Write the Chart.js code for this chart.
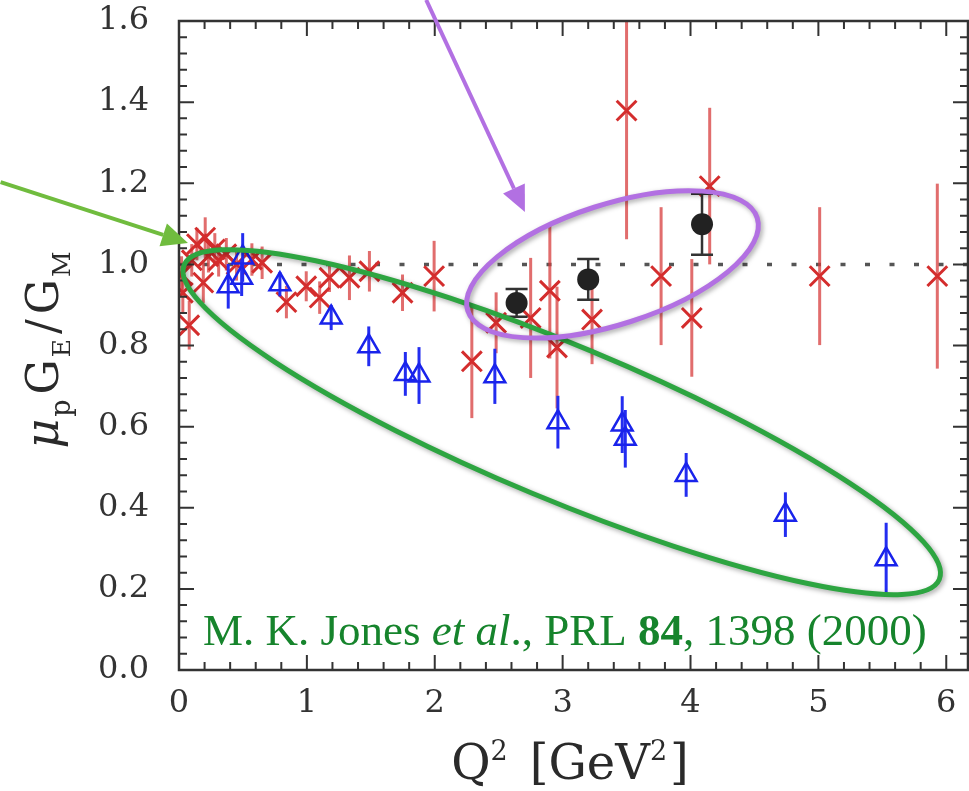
<!DOCTYPE html>
<html><head><meta charset="utf-8">
<script src="https://cdn.jsdelivr.net/npm/chart.js@4/dist/chart.umd.min.js"></script>
<style>html,body{margin:0;padding:0;background:#fff;overflow:hidden}#wrap{width:969px;height:791px}</style>
</head><body><div id="wrap"><canvas id="c" width="969" height="791"></canvas></div>
<script>
// ---------- data ----------
const xTickLabels = [0, 1, 2, 3, 4, 5, 6];
const yTickLabels = [0.0, 0.2, 0.4, 0.6, 0.8, 1.0, 1.2, 1.4, 1.6];
const xRange = [0, 6.17];
const yRange = [0, 1.6];
const refLevel = 1.0;

// Rosenbluth separation (red asterisks)
const redQ   = [0.02, 0.03, 0.08, 0.10, 0.14, 0.19, 0.205, 0.23, 0.28, 0.31, 0.37, 0.45, 0.57, 0.65, 0.84, 0.995, 1.10, 1.177, 1.333, 1.489, 1.748, 1.995, 2.29, 2.48, 2.75, 2.90, 2.956, 3.23, 3.50, 3.77, 4.01, 4.15, 5.01, 5.93];
const redR   = [0.975, 0.93, 0.85, 1.01, 1.05, 0.955, 1.066, 1.02, 1.037, 1.01, 1.025, 1.00, 1.012, 1.004, 0.907, 0.946, 0.918, 0.967, 0.967, 0.983, 0.93, 0.971, 0.761, 0.856, 0.868, 0.935, 0.795, 0.864, 1.379, 0.971, 0.868, 1.193, 0.971, 0.971];
const redErr = [0.045, 0.05, 0.06, 0.04, 0.04, 0.05, 0.05, 0.04, 0.04, 0.04, 0.04, 0.04, 0.04, 0.04, 0.04, 0.037, 0.04, 0.035, 0.055, 0.05, 0.045, 0.087, 0.14, 0.075, 0.148, 0.167, 0.15, 0.11, 0.317, 0.17, 0.145, 0.193, 0.17, 0.228];

// Polarization transfer, Jones et al. (blue triangles)
const blueQ   = [0.385, 0.498, 0.49, 0.789, 1.19, 1.484, 1.77, 1.877, 2.47, 2.963, 3.466, 3.49, 3.966, 4.742, 5.53];
const blueR   = [0.946, 1.017, 0.967, 0.951, 0.869, 0.798, 0.73, 0.726, 0.724, 0.611, 0.605, 0.57, 0.481, 0.383, 0.273];
const blueErr = [0.055, 0.06, 0.045, 0.03, 0.031, 0.049, 0.054, 0.07, 0.068, 0.065, 0.07, 0.071, 0.054, 0.055, 0.09];

// Black filled circles
const blackQ   = [2.64, 3.20, 4.09];
const blackR   = [0.905, 0.963, 1.099];
const blackErr = [0.034, 0.05, 0.075];

const toPts = (q, r) => q.map((v, i) => ({x: v, y: r[i]}));

// ---------- annotation anchors (data units) ----------
const greenEllipse  = {q: 2.993, r: 0.611};
const purpleEllipse = {q: 3.39,  r: 1.0};
const greenArrow  = {from: {q: -1.395, r: 1.203}, to: {q: 0.07, r: 1.053}};
const purpleArrow = {from: {q: 1.933, r: 1.652}, to: {q: 2.705, r: 1.129}};
const citeAnchor = {q: 0.187, r: 0.062};

const SERIF = "'DejaVu Serif', serif";
const TIMES = "'Liberation Serif', 'Times New Roman', serif";

const errorBars = {
  id: 'errorBars',
  beforeDatasetDraw(chart, args) {
    const ds = chart.data.datasets[args.index];
    if (!ds.errors) return;
    const {ctx, chartArea: a} = chart;
    const xs = chart.scales.x, ys = chart.scales.y;
    ctx.save();
    ctx.beginPath(); ctx.rect(a.left, a.top, a.right - a.left, a.bottom - a.top); ctx.clip();
    ctx.strokeStyle = ds.errColor; ctx.lineWidth = ds.errWidth; ctx.lineCap = 'butt';
    ds.data.forEach((p, i) => {
      const px = xs.getPixelForValue(p.x);
      const y1 = ys.getPixelForValue(p.y - ds.errors[i]);
      const y2 = ys.getPixelForValue(p.y + ds.errors[i]);
      ctx.beginPath(); ctx.moveTo(px, y1); ctx.lineTo(px, y2); ctx.stroke();
      if (ds.cap) {
        ctx.beginPath();
        ctx.moveTo(px - ds.cap, y1); ctx.lineTo(px + ds.cap, y1);
        ctx.moveTo(px - ds.cap, y2); ctx.lineTo(px + ds.cap, y2);
        ctx.stroke();
      }
    });
    ctx.restore();
  }
};

const frameTicks = {
  id: 'frameTicks',
  afterDatasetsDraw(chart) {
    const {ctx, chartArea: a} = chart;
    const xs = chart.scales.x, ys = chart.scales.y;
    ctx.save();
    ctx.strokeStyle = '#333'; ctx.lineWidth = 2;
    const major = 15, minor = 8;
    for (let k = 0; k <= 31; k++) {
      const v = k * 0.2;
      if (v > xs.max + 1e-9) break;
      const px = xs.getPixelForValue(v);
      const len = (k % 5 === 0) ? major : minor;
      ctx.beginPath();
      ctx.moveTo(px, a.bottom); ctx.lineTo(px, a.bottom - len);
      ctx.moveTo(px, a.top); ctx.lineTo(px, a.top + len);
      ctx.stroke();
    }
    for (let k = 0; k <= 40; k++) {
      const v = k * 0.04;
      const py = ys.getPixelForValue(v);
      const len = (k % 5 === 0) ? major : minor;
      ctx.beginPath();
      ctx.moveTo(a.left, py); ctx.lineTo(a.left + len, py);
      ctx.moveTo(a.right, py); ctx.lineTo(a.right - len, py);
      ctx.stroke();
    }
    ctx.lineWidth = 2.5;
    ctx.strokeRect(a.left, a.top, a.right - a.left, a.bottom - a.top);
    ctx.restore();
  }
};

function drawPieces(ctx, pieces, x, y) {
  let cx = x;
  pieces.forEach(p => {
    ctx.font = p.f;
    ctx.fillText(p.t, cx + (p.dx || 0), y + (p.dy || 0));
    cx += ctx.measureText(p.t).width + (p.gap || 0);
  });
  return cx;
}
function piecesWidth(ctx, pieces) {
  let w = 0;
  pieces.forEach(p => { ctx.font = p.f; w += ctx.measureText(p.t).width + (p.gap || 0); });
  return w;
}

function arrow(ctx, x1, y1, x2, y2, color, lw, hl, hw) {
  const ang = Math.atan2(y2 - y1, x2 - x1);
  const bx = x2 - hl * Math.cos(ang), by = y2 - hl * Math.sin(ang);
  ctx.strokeStyle = color; ctx.fillStyle = color; ctx.lineWidth = lw;
  ctx.beginPath(); ctx.moveTo(x1, y1); ctx.lineTo(bx, by); ctx.stroke();
  ctx.beginPath();
  ctx.moveTo(x2, y2);
  ctx.lineTo(bx + hw * Math.sin(ang), by - hw * Math.cos(ang));
  ctx.lineTo(bx - hw * Math.sin(ang), by + hw * Math.cos(ang));
  ctx.closePath(); ctx.fill();
}

const annotations = {
  id: 'annotations',
  afterDraw(chart) {
    const {ctx} = chart;
    const xs = chart.scales.x, ys = chart.scales.y;
    const P = o => [xs.getPixelForValue(o.q), ys.getPixelForValue(o.r)];
    ctx.save();
    // axis titles
    ctx.fillStyle = '#2a2a2a';
    ctx.textBaseline = 'alphabetic';
    const xt = [
      {t: 'Q', f: `48px ${SERIF}`},
      {t: '2', f: `27px ${SERIF}`, dy: -19, gap: 22},
      {t: '[GeV', f: `48px ${SERIF}`},
      {t: '2', f: `27px ${SERIF}`, dy: -19, gap: 3},
      {t: ']', f: `48px ${SERIF}`}
    ];
    const xw = piecesWidth(ctx, xt);
    drawPieces(ctx, xt, 570 - xw / 2, 779);

    ctx.save();
    ctx.translate(58, 350);
    ctx.rotate(-Math.PI / 2);
    const yt = [
      {t: 'μ', f: `italic 46px ${SERIF}`, gap: 2},
      {t: 'p', f: `27px ${SERIF}`, dy: 12, gap: 5},
      {t: 'G', f: `44px ${SERIF}`, gap: 2},
      {t: 'E', f: `25px ${SERIF}`, dy: 12, gap: 5},
      {t: '/', f: `44px ${SERIF}`, gap: 5},
      {t: 'G', f: `44px ${SERIF}`, gap: 2},
      {t: 'M', f: `25px ${SERIF}`, dy: 12}
    ];
    const yw = piecesWidth(ctx, yt);
    drawPieces(ctx, yt, -yw / 2, 0);
    ctx.restore();

    // ellipses
    ctx.shadowColor = 'rgba(0,0,0,0.35)'; ctx.shadowBlur = 5; ctx.shadowOffsetX = 2; ctx.shadowOffsetY = 2;
    let [gx, gy] = P(greenEllipse);
    ctx.strokeStyle = 'rgb(45,165,65)'; ctx.lineWidth = 5;
    ctx.beginPath(); ctx.ellipse(gx, gy, 409, 77, 22.6 * Math.PI / 180, 0, Math.PI * 2); ctx.stroke();
    let [ux, uy] = P(purpleEllipse);
    ctx.strokeStyle = 'rgb(178,112,226)';
    ctx.beginPath(); ctx.ellipse(ux, uy, 152, 60, -17.8 * Math.PI / 180, 0, Math.PI * 2); ctx.stroke();
    ctx.shadowColor = 'transparent'; ctx.shadowBlur = 0; ctx.shadowOffsetX = 0; ctx.shadowOffsetY = 0;

    // arrows
    let [a1x, a1y] = P(greenArrow.from), [a2x, a2y] = P(greenArrow.to);
    arrow(ctx, a1x, a1y, a2x, a2y, 'rgb(112,188,62)', 4, 26, 12);
    let [b1x, b1y] = P(purpleArrow.from), [b2x, b2y] = P(purpleArrow.to);
    arrow(ctx, b1x, b1y, b2x, b2y, 'rgb(178,112,226)', 4, 26, 12);

    // citation
    const [tx, ty] = P(citeAnchor);
    ctx.fillStyle = 'rgb(22,132,44)';
    drawPieces(ctx, [
      {t: 'M. K. Jones ', f: `45px ${TIMES}`},
      {t: 'et al', f: `italic 45px ${TIMES}`},
      {t: '., PRL ', f: `45px ${TIMES}`},
      {t: '84', f: `bold 45px ${TIMES}`},
      {t: ', 1398 (2000)', f: `45px ${TIMES}`}
    ], tx, ty);
    ctx.restore();
  }
};

const noPad = s => { s.paddingTop = 0; s.paddingBottom = 0; s.paddingLeft = 0; s.paddingRight = 0; };

new Chart(document.getElementById('c'), {
  type: 'scatter',
  data: {
    datasets: [
      {label: 'circles', data: toPts(blackQ, blackR), pointStyle: 'circle', pointRadius: 11,
       backgroundColor: '#222', borderColor: '#222', borderWidth: 0,
       errors: blackErr, errColor: '#333', errWidth: 2.5, cap: 11},
      {label: 'Jones', data: toPts(blueQ, blueR), pointStyle: 'triangle', pointRadius: 12,
       backgroundColor: 'rgba(0,0,0,0)', borderColor: 'rgb(25,35,235)', borderWidth: 2.5,
       errors: blueErr, errColor: 'rgb(35,45,240)', errWidth: 3},
      {label: 'Rosenbluth', data: toPts(redQ, redR), pointStyle: 'crossRot', pointRadius: 14,
       backgroundColor: 'rgba(0,0,0,0)', borderColor: 'rgb(212,45,45)', borderWidth: 3,
       errors: redErr, errColor: 'rgba(215,60,60,0.75)', errWidth: 3},
      {type: 'line', label: 'ref', data: [{x: xRange[0], y: refLevel}, {x: xRange[1], y: refLevel}],
       borderColor: '#555', borderDash: [5, 19.5], borderWidth: 3.5, pointRadius: 0, fill: false}
    ]
  },
  options: {
    responsive: false,
    animation: false,
    events: [],
    layout: {autoPadding: false, padding: {left: 0, right: 1, top: 21, bottom: 0}},
    plugins: {legend: {display: false}, tooltip: {enabled: false}},
    scales: {
      x: {
        type: 'linear', min: xRange[0], max: xRange[1],
        afterBuildTicks: s => { s.ticks = xTickLabels.map(v => ({value: v})); },
        afterFit: s => { s.height = 121; noPad(s); },
        ticks: {callback: v => String(v), font: {family: SERIF, size: 32}, color: '#333', padding: 14, maxRotation: 0, autoSkip: false},
        grid: {display: false, drawTicks: false},
        border: {display: false}
      },
      y: {
        type: 'linear', min: yRange[0], max: yRange[1],
        afterBuildTicks: s => { s.ticks = yTickLabels.map(v => ({value: v})); },
        afterFit: s => { s.width = 179; noPad(s); },
        ticks: {callback: v => Number(v).toFixed(1), font: {family: SERIF, size: 32}, color: '#333', padding: 30, autoSkip: false},
        grid: {display: false, drawTicks: false},
        border: {display: false}
      }
    }
  },
  plugins: [errorBars, frameTicks, annotations]
});
</script>
</body></html>
